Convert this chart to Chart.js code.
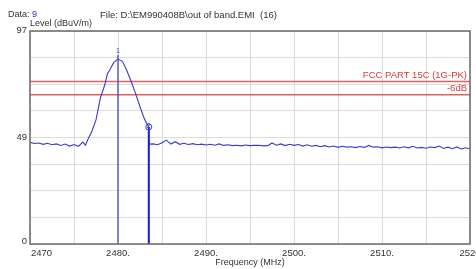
<!DOCTYPE html>
<html>
<head>
<meta charset="utf-8">
<script src="https://cdn.jsdelivr.net/npm/chart.js@4/dist/chart.umd.min.js"></script>
<style>
html,body{margin:0;padding:0;background:#fff;}
#wrap{width:476px;height:269px;position:relative;}
</style>
</head>
<body>
<div id="wrap"><canvas id="c" width="476" height="269"></canvas></div>
<script>
// ---- data ----
const freq = [
 2470,2470.5,2471,2471.5,2472,2472.5,2473,2473.5,2474,2474.5,2475,2475.5,2476,2476.3,2476.6,
 2477,2477.5,2478,2478.5,2478.8,2479,2479.5,2480,2480.5,2481,2481.5,2482,2482.5,2483,2483.3,2483.5,2483.6,
 2484,2484.5,2485,2485.5,2486,2486.5,2487,2487.5,2488,2488.5,2489,2489.5,2490,2490.5,2491,2491.5,2492,2492.5,
 2493,2493.5,2494,2494.5,2495,2495.5,2496,2496.5,2497,2497.5,2498,2498.5,2499,2499.5,2500,2500.5,2501,2501.5,
 2502,2502.5,2503,2503.5,2504,2504.5,2505,2505.5,2506,2506.5,2507,2507.5,2508,2508.5,2509,2509.5,2510,2510.5,
 2511,2511.5,2512,2512.5,2513,2513.5,2514,2514.5,2515,2515.5,2516,2516.5,2517,2517.5,2518,2518.5,2519,2519.5,2520
];
const level = [
 46.3,45.8,46.0,45.4,45.9,45.2,45.6,44.9,45.5,44.6,45.3,44.5,46.4,45.0,47.8,
 51.0,56.5,66.5,72.5,77.5,78.8,82.6,84.2,83.2,79.0,74.0,68.5,62.5,57.0,54.5,53.3,45.5,
 45.6,45.2,46.1,47.3,45.5,46.6,45.4,45.9,45.3,45.7,45.2,45.5,45.1,45.4,45.0,45.6,44.9,45.2,
 44.8,45.0,44.7,45.1,44.8,44.9,45.0,44.7,44.8,46.0,45.0,45.6,44.8,45.4,44.9,45.3,44.6,45.2,
 44.5,44.9,44.3,44.8,44.2,44.6,44.0,44.5,44.1,44.3,43.9,44.4,44.0,44.9,44.1,44.3,43.8,44.2,
 43.9,44.1,43.7,44.3,43.8,44.5,43.7,44.0,43.6,44.2,43.9,44.6,43.5,44.1,43.4,44.2,43.3,43.8,43.4
];
const markerFreq = [2480, 2483.5];
const markerLevel = [84.2, 53.3];
const markerNames = ['1', '2'];
const limitLevels = [74, 68];
const limitNames = ['FCC PART 15C (1G-PK)', '-6dB'];
const xGridValues = [2470,2475,2480,2485,2490,2495,2500,2505,2510,2515,2520];
const xTickValues = [2470,2480,2490,2500,2510,2520];
const xTickLabels = ['2470','2480.','2490.','2500.','2510.','2520'];
const yGridValues = [0,12.125,24.25,36.375,48.5,60.625,72.75,84.875,97];
const yTickValues = [0,48.5,97];
const yTickLabels = ['0','49','97'];
const titleData = 'Data:';
const titleDataNo = '9';
const titleFile = 'File: D:\\EM990408B\\out of band.EMI  (16)';
const yTitle = 'Level (dBuV/m)';
const xTitle = 'Frequency (MHz)';

// ---- chart ----
const FONT = '"Liberation Sans", Arial, sans-serif';
const datasets = [
  {data: freq.map((f,i)=>({x:f,y:level[i]})), borderColor:'#3a3ad0', borderWidth:1.1, pointRadius:0, tension:0, order:1},
  {data: [{x:markerFreq[0],y:0},{x:markerFreq[0],y:markerLevel[0]+2}], borderColor:'#4848c8', borderWidth:1.3, pointRadius:0, order:2},
  {data: [{x:markerFreq[1],y:0},{x:markerFreq[1],y:markerLevel[1]}], borderColor:'#1515e8', borderWidth:2, pointRadius:0, order:2},
  {data: [{x:2470,y:limitLevels[0]},{x:2520,y:limitLevels[0]}], borderColor:'#e46060', borderWidth:1.5, pointRadius:0, order:3},
  {data: [{x:2470,y:limitLevels[1]},{x:2520,y:limitLevels[1]}], borderColor:'#e46060', borderWidth:1.5, pointRadius:0, order:3}
];

const textPlugin = {
  id:'texts',
  afterDraw(chart){
    const ctx = chart.ctx, xs = chart.scales.x, ys = chart.scales.y, a = chart.chartArea;
    ctx.save();
    // frame
    ctx.strokeStyle = '#6a6a6a'; ctx.lineWidth = 1.5;
    ctx.strokeRect(a.left, a.top, a.right-a.left, a.bottom-a.top);
    ctx.textBaseline = 'middle';
    // header
    ctx.font = '9px ' + FONT; ctx.fillStyle = '#333'; ctx.textAlign = 'left';
    ctx.fillText(titleData, 8, 15);
    const w = ctx.measureText(titleData + ' ').width;
    ctx.fillStyle = '#2a2ad0'; ctx.fillText(titleDataNo, 8 + w, 15);
    ctx.fillStyle = '#333'; ctx.font = '9.5px ' + FONT; ctx.fillText(titleFile, 100, 15);
    ctx.font = '9px ' + FONT; ctx.fillText(yTitle, 30, 24);
    // y ticks
    ctx.font = '9.5px ' + FONT; ctx.textAlign = 'right';
    yTickValues.forEach((v,i)=>{
      let py = ys.getPixelForValue(v);
      if (i===0) py -= 3;
      if (i===2) py -= 1;
      ctx.fillText(yTickLabels[i], 27, py);
    });
    // x ticks
    ctx.textAlign = 'center';
    xTickValues.forEach((v,i)=>{
      let px = xs.getPixelForValue(v);
      if (i===0) { ctx.textAlign='left'; ctx.fillText(xTickLabels[i], px+1, 253); ctx.textAlign='center'; }
      else ctx.fillText(xTickLabels[i], px, 253);
    });
    ctx.font = '9px ' + FONT;
    ctx.fillText(xTitle, 250, 263);
    // limit labels
    ctx.fillStyle = '#e03838'; ctx.textAlign = 'right'; ctx.font = '9.5px ' + FONT;
    ctx.fillText(limitNames[0], 467, ys.getPixelForValue(limitLevels[0]) - 6);
    ctx.fillText(limitNames[1], 467, ys.getPixelForValue(limitLevels[1]) - 6);
    // markers
    ctx.fillStyle = '#3a3ad0'; ctx.textAlign = 'center'; ctx.font = '7px ' + FONT;
    ctx.fillText(markerNames[0], xs.getPixelForValue(markerFreq[0]), ys.getPixelForValue(markerLevel[0]) - 8);
    const m2x = xs.getPixelForValue(markerFreq[1]), m2y = ys.getPixelForValue(markerLevel[1]);
    ctx.strokeStyle = '#3a3ad0'; ctx.lineWidth = 1;
    ctx.beginPath(); ctx.arc(m2x, m2y, 3, 0, Math.PI*2); ctx.stroke();
    ctx.fillText(markerNames[1], m2x, m2y - 1);
    ctx.restore();
  }
};

new Chart(document.getElementById('c'), {
  type:'line',
  data:{datasets},
  plugins:[textPlugin],
  options:{
    responsive:false, animation:false,
    layout:{padding:{left:0, top:31, right:6, bottom:0}},
    plugins:{legend:{display:false}, tooltip:{enabled:false}},
    scales:{
      x:{type:'linear', min:2470, max:2520,
        afterBuildTicks(s){ s.ticks = xGridValues.map(v=>({value:v})); },
        afterFit(s){ s.height = 25; },
        ticks:{display:false},
        grid:{color:'#dcdcdc', lineWidth:1, drawTicks:false},
        border:{display:false}
      },
      y:{type:'linear', min:0, max:97,
        afterBuildTicks(s){ s.ticks = yGridValues.map(v=>({value:v})); },
        afterFit(s){ s.width = 30; },
        ticks:{display:false},
        grid:{color:'#dcdcdc', lineWidth:1, drawTicks:false},
        border:{display:false}
      }
    }
  }
});
</script>
</body>
</html>
